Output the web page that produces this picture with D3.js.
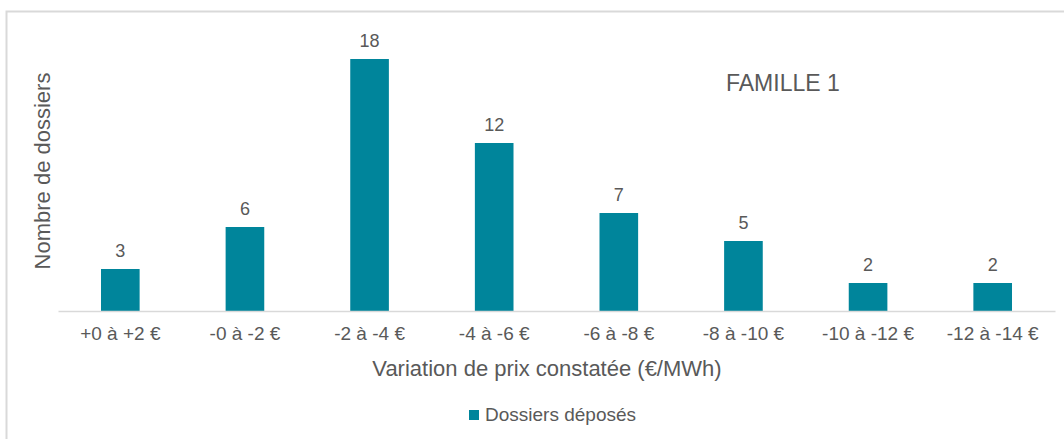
<!DOCTYPE html>
<html><head><meta charset="utf-8">
<script src="https://cdn.jsdelivr.net/npm/d3@7"></script>
<style>body{margin:0;background:#fff}svg{display:block}text{font-family:"Liberation Sans",Arial,sans-serif}</style>
</head><body><div id="chart"></div>
<script>
const categories = ["+0 à +2 €","-0 à -2 €","-2 à -4 €","-4 à -6 €","-6 à -8 €","-8 à -10 €","-10 à -12 €","-12 à -14 €"];
const values = [3, 6, 18, 12, 7, 5, 2, 2];
const seriesName = "Dossiers déposés";
const title = "FAMILLE 1";
const xTitle = "Variation de prix constatée (€/MWh)";
const yTitle = "Nombre de dossiers";

const W = 1064, H = 439;
const color = "#00859B", textColor = "#595959";
const svg = d3.select("#chart").append("svg").attr("width", W).attr("height", H);

// frame
svg.append("path").attr("d", `M6.5,${H} V11.5 H${W}`).attr("fill","none").attr("stroke","#d9d9d9").attr("stroke-width",2);

const x = d3.scaleBand().domain(categories).range([58, 1055]).paddingInner(0.69).paddingOuter(0.345);
const y = d3.scaleLinear().domain([0, 18]).range([311, 59]);

svg.selectAll("rect.bar").data(values).join("rect").attr("class","bar")
  .attr("x", (d,i) => x(categories[i])).attr("width", x.bandwidth())
  .attr("y", d => y(d)).attr("height", d => y(0) - y(d)).attr("fill", color);

svg.selectAll("text.val").data(values).join("text").attr("class","val")
  .attr("x", (d,i) => x(categories[i]) + x.bandwidth()/2).attr("y", d => y(d) - 12)
  .attr("text-anchor","middle").attr("font-size",18).attr("fill",textColor).text(d => d);

const xAxis = svg.append("g").attr("transform","translate(0,311)")
  .call(d3.axisBottom(x).tickSize(0).tickPadding(16));
xAxis.select(".domain").attr("stroke","#d9d9d9").attr("stroke-width",1.5);
xAxis.selectAll("text").attr("font-size",19).attr("fill",textColor);

svg.append("text").attr("x", 547).attr("y", 376).attr("text-anchor","middle")
  .attr("font-size",22).attr("fill",textColor).text(xTitle);

svg.append("text").attr("transform","translate(50,171) rotate(-90)").attr("text-anchor","middle")
  .attr("font-size",22).attr("fill",textColor).text(yTitle);

svg.append("text").attr("x", 726).attr("y", 91).attr("font-size",23).attr("fill",textColor).text(title);

const lg = svg.append("g");
lg.append("rect").attr("x",469).attr("y",410).attr("width",10).attr("height",10).attr("fill",color);
lg.append("text").attr("x",485).attr("y",421).attr("font-size",19).attr("fill",textColor).text(seriesName);
</script></body></html>
